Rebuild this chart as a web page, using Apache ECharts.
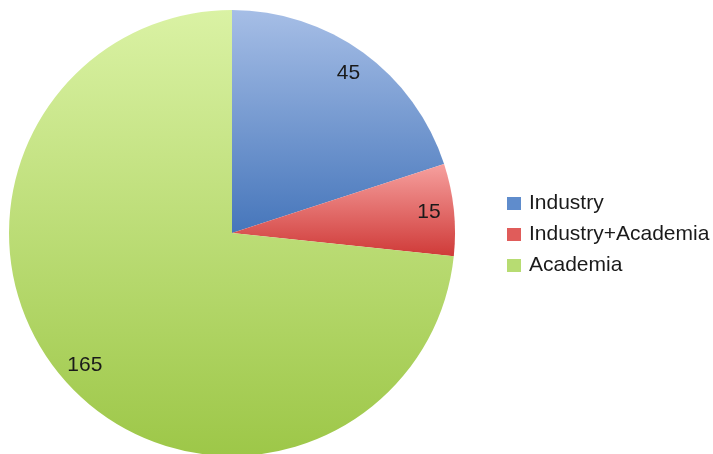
<!DOCTYPE html>
<html><head><meta charset="utf-8">
<script src="https://cdn.jsdelivr.net/npm/echarts@6/dist/echarts.min.js"></script>
<style>html,body{margin:0;padding:0;background:#fff}#c{width:713px;height:454px}</style>
</head><body><div id="c"></div>
<script>
var categories = ['Industry', 'Industry+Academia', 'Academia'];
var values = [45, 15, 165];
var topColors = ['#a6bee6', '#f6a09e', '#daf2a4'];
var bottomColors = ['#4676bb', '#cf3a38', '#9dc748'];
var iconColors = ['#5f8ccc', '#e05c5a', '#b7dc72'];

function grad(i) {
  return new echarts.graphic.LinearGradient(0, 0, 0, 1, [
    {offset: 0, color: topColors[i]}, {offset: 1, color: bottomColors[i]}
  ]);
}

var mainData = categories.map(function (c, i) {
  return {name: c, value: values[i], itemStyle: {color: grad(i)}};
});
var labelData = categories.map(function (c, i) {
  return {name: c, value: values[i]};
});

var chart = echarts.init(document.getElementById('c'));
chart.setOption({
  animation: false,
  legend: {
    orient: 'vertical',
    left: 502,
    top: 188,
    itemWidth: 14,
    itemHeight: 13,
    itemGap: 10,
    icon: 'rect',
    textStyle: {fontFamily: 'Liberation Sans, Arial, sans-serif', fontSize: 21, color: '#1a1a1a', lineHeight: 21, padding: [0, 0, 0, 3]},
    data: categories.map(function (c, i) { return {name: c, itemStyle: {color: iconColors[i]}}; })
  },
  series: [{
    type: 'pie',
    center: [232, 233],
    radius: [0, 223],
    startAngle: 90,
    clockwise: true,
    label: {show: false},
    labelLine: {show: false},
    silent: true,
    data: mainData
  }, {
    type: 'pie',
    center: [232, 233],
    radius: [168, 222],
    startAngle: 90,
    clockwise: true,
    silent: true,
    itemStyle: {color: 'rgba(0,0,0,0)'},
    label: {show: true, position: 'inside', formatter: '{c}', fontFamily: 'Liberation Sans, Arial, sans-serif', fontSize: 21, color: '#1a1a1a'},
    labelLine: {show: false},
    data: labelData
  }]
});
</script></body></html>
